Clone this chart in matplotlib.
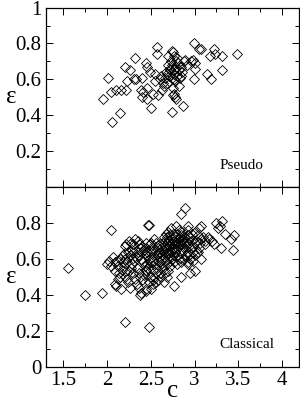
import matplotlib.pyplot as plt
from matplotlib.ticker import MultipleLocator

plt.rcParams['font.family'] = ['Liberation Serif', 'DejaVu Serif']

# Pseudo panel
c_pseudo = [1.95, 2.01, 2.04, 2.10, 2.16, 2.22, 2.06, 2.15, 2.20, 2.26,
            2.23, 2.32, 2.31, 2.33, 2.40, 2.44, 2.46, 2.49, 2.39, 2.41,
            2.40, 2.46, 2.46, 2.50, 2.55, 2.55, 2.57, 2.57, 2.58, 2.63,
            2.65, 2.62, 2.66, 2.68, 2.70, 2.72, 2.74, 2.75, 2.72, 2.74,
            2.75, 2.74, 2.75, 2.77, 2.78, 2.79, 2.77, 2.79, 2.79, 2.77,
            2.76, 2.80, 2.82, 2.83, 2.82, 2.87, 2.85, 2.88, 2.89, 2.91,
            2.96, 2.98, 3.00, 2.99, 3.01, 2.99, 3.05, 3.08, 3.14, 3.19,
            3.18, 3.22, 3.23, 3.31, 3.31, 3.49, 2.61, 2.67, 2.70, 2.73,
            2.76, 2.78, 2.81, 2.84, 2.86, 2.71, 2.69, 2.80, 2.74, 2.78,
            2.64, 2.52]
eps_pseudo = [0.49, 0.61, 0.53, 0.54, 0.54, 0.54, 0.36, 0.41, 0.67, 0.65,
              0.59, 0.72, 0.60, 0.60, 0.61, 0.69, 0.67, 0.64, 0.54, 0.53,
              0.50, 0.49, 0.55, 0.44, 0.63, 0.59, 0.78, 0.74, 0.51, 0.54,
              0.56, 0.62, 0.61, 0.63, 0.73, 0.65, 0.76, 0.75, 0.66, 0.61,
              0.55, 0.42, 0.51, 0.52, 0.50, 0.49, 0.73, 0.70, 0.67, 0.65,
              0.60, 0.62, 0.65, 0.61, 0.56, 0.45, 0.67, 0.70, 0.71, 0.68,
              0.70, 0.71, 0.69, 0.80, 0.66, 0.60, 0.77, 0.77, 0.63, 0.60,
              0.73, 0.77, 0.74, 0.73, 0.65, 0.74, 0.60, 0.64, 0.68, 0.70,
              0.63, 0.66, 0.69, 0.62, 0.64, 0.62, 0.58, 0.72, 0.68, 0.59,
              0.58, 0.52]

# Classical panel
c_classical = [1.55, 1.75, 1.94, 2.04, 2.21, 2.48, 2.47, 2.48, 2.84, 2.89,
               2.79, 2.77, 2.84, 2.95, 3.00, 3.05, 3.08, 3.17, 3.20, 3.25,
               3.27, 3.29, 3.32, 3.35, 3.42, 3.45, 3.44, 3.30, 3.22, 3.12,
               3.10, 3.05, 3.03, 3.08, 2.98, 3.00, 2.93, 2.45, 2.44, 2.39,
               2.38, 2.50, 2.53, 2.56, 2.48, 2.26, 2.24, 2.10, 2.09, 2.16,
               2.12, 2.22, 2.05, 2.02, 2.00, 2.07, 2.09, 2.14, 2.15, 2.18,
               2.20, 2.22, 2.25, 2.27, 2.30, 2.28, 2.32, 2.35, 2.38, 2.40,
               2.42, 2.43, 2.45, 2.44, 2.49, 2.50, 2.52, 2.55, 2.57, 2.60,
               2.62, 2.64, 2.65, 2.67, 2.70, 2.72, 2.74, 2.76, 2.78, 2.80,
               2.82, 2.85, 2.87, 2.90, 2.92, 2.94, 2.96, 2.98, 3.00, 2.88,
               2.85, 2.83, 2.81, 2.79, 2.77, 2.75, 2.73, 2.71, 2.69, 2.67,
               2.65, 2.63, 2.61, 2.59, 2.57, 2.55, 2.53, 2.51, 2.49, 2.47,
               2.45, 2.43, 2.41, 2.39, 2.37, 2.35, 2.33, 2.31, 2.29, 2.27,
               2.25, 2.23, 2.21, 2.19, 2.17, 2.15, 2.13, 2.11, 2.09, 2.26,
               2.28, 2.34, 2.36, 2.38, 2.40, 2.42, 2.44, 2.46, 2.48, 2.50,
               2.52, 2.54, 2.56, 2.58, 2.60, 2.62, 2.64, 2.66, 2.68, 2.70,
               2.72, 2.74, 2.76, 2.78, 2.80, 2.82, 2.84, 2.86, 2.88, 2.90,
               2.92, 2.94, 2.96, 2.98, 3.02, 3.04, 3.06, 3.08, 3.12, 3.15,
               3.00, 2.97, 2.93, 2.86, 2.83, 2.75, 2.73, 2.69, 2.66, 2.61,
               2.58, 2.56, 2.54, 2.61, 2.63, 2.68, 2.70, 2.72, 2.76, 2.80,
               2.84, 2.88, 2.90, 2.92, 2.95, 2.70, 2.72, 2.74, 2.76, 2.80,
               2.82, 2.84, 2.86, 2.88, 2.78, 2.66, 2.64, 2.58, 2.50, 2.46,
               2.44, 2.40, 2.36, 2.30, 2.24, 2.20, 2.18, 2.20, 2.23, 2.30,
               2.32, 2.34, 2.36, 2.50, 2.52, 2.60, 2.62, 2.58, 2.65, 2.67,
               2.69, 2.71, 2.73, 2.93, 2.92, 3.04]
eps_classical = [0.55, 0.40, 0.41, 0.76, 0.25, 0.22, 0.79, 0.79, 0.85, 0.88,
                 0.78, 0.45, 0.50, 0.52, 0.53, 0.77, 0.78, 0.71, 0.70, 0.80,
                 0.77, 0.78, 0.81, 0.74, 0.71, 0.73, 0.65, 0.66, 0.68, 0.68,
                 0.72, 0.66, 0.63, 0.60, 0.59, 0.62, 0.57, 0.43, 0.42, 0.41,
                 0.40, 0.43, 0.46, 0.47, 0.47, 0.44, 0.47, 0.45, 0.46, 0.43,
                 0.49, 0.53, 0.56, 0.59, 0.57, 0.61, 0.58, 0.52, 0.60, 0.62,
                 0.67, 0.68, 0.70, 0.69, 0.68, 0.65, 0.71, 0.70, 0.66, 0.64,
                 0.65, 0.63, 0.62, 0.69, 0.68, 0.69, 0.66, 0.64, 0.62, 0.63,
                 0.66, 0.69, 0.72, 0.74, 0.75, 0.73, 0.71, 0.70, 0.72, 0.74,
                 0.76, 0.73, 0.71, 0.70, 0.68, 0.72, 0.70, 0.67, 0.69, 0.66,
                 0.68, 0.70, 0.67, 0.65, 0.68, 0.66, 0.64, 0.67, 0.69, 0.66,
                 0.63, 0.60, 0.58, 0.56, 0.55, 0.57, 0.59, 0.61, 0.58, 0.55,
                 0.53, 0.56, 0.58, 0.60, 0.62, 0.64, 0.61, 0.59, 0.57, 0.55,
                 0.53, 0.58, 0.60, 0.56, 0.54, 0.50, 0.56, 0.59, 0.53, 0.62,
                 0.60, 0.55, 0.52, 0.50, 0.48, 0.51, 0.54, 0.57, 0.60, 0.63,
                 0.54, 0.50, 0.52, 0.59, 0.61, 0.57, 0.55, 0.52, 0.50, 0.53,
                 0.56, 0.60, 0.62, 0.64, 0.62, 0.60, 0.63, 0.65, 0.69, 0.67,
                 0.64, 0.62, 0.66, 0.64, 0.70, 0.73, 0.69, 0.71, 0.70, 0.72,
                 0.75, 0.74, 0.73, 0.75, 0.72, 0.74, 0.77, 0.72, 0.70, 0.68,
                 0.66, 0.69, 0.71, 0.64, 0.62, 0.63, 0.61, 0.59, 0.58, 0.57,
                 0.58, 0.60, 0.62, 0.58, 0.60, 0.70, 0.68, 0.69, 0.66, 0.69,
                 0.71, 0.68, 0.70, 0.72, 0.69, 0.67, 0.65, 0.63, 0.65, 0.64,
                 0.66, 0.67, 0.68, 0.63, 0.64, 0.63, 0.58, 0.50, 0.49, 0.52,
                 0.49, 0.46, 0.44, 0.50, 0.48, 0.52, 0.50, 0.48, 0.47, 0.59,
                 0.57, 0.63, 0.61, 0.78, 0.76, 0.64]

fig = plt.figure(figsize=(3.0, 4.01), dpi=100)
ax1 = fig.add_axes([0.153, 0.534, 0.845, 0.447])
ax2 = fig.add_axes([0.153, 0.085, 0.845, 0.449])

for ax, cx, ey in [(ax1, c_pseudo, eps_pseudo), (ax2, c_classical, eps_classical)]:
    ax.plot(cx, ey, linestyle='none', marker='D', markersize=4.8,
            markerfacecolor='none', markeredgecolor='black', markeredgewidth=0.6)
    ax.set_xlim(1.3, 4.2)
    ax.set_ylim(0, 1)
    ax.xaxis.set_major_locator(MultipleLocator(0.5))
    ax.xaxis.set_minor_locator(MultipleLocator(0.25))
    ax.yaxis.set_major_locator(MultipleLocator(0.2))
    ax.yaxis.set_minor_locator(MultipleLocator(0.1))
    ax.tick_params(which='both', direction='in', top=True, right=True, labelsize=15)
    ax.tick_params(which='major', length=5, width=0.7, pad=3)
    ax.tick_params(which='minor', length=3, width=0.7)
    for s in ax.spines.values():
        s.set_linewidth(0.9)
    ax.set_ylabel('ε', fontsize=18, rotation=0, ha='center', va='center')
    ax.yaxis.set_label_coords(-0.135, 0.5)

ax1.set_yticks([0.2, 0.4, 0.6, 0.8, 1.0])
ax1.set_yticklabels(['0.2', '0.4', '0.6', '0.8', '1'])
ax1.tick_params(labelbottom=False)
ax2.set_yticks([0, 0.2, 0.4, 0.6, 0.8])
ax2.set_yticklabels(['0', '0.2', '0.4', '0.6', '0.8'])
ax2.set_xticks([1.5, 2, 2.5, 3, 3.5, 4])
ax2.set_xticklabels(['1.5', '2', '2.5', '3', '3.5', '4'])
ax2.set_xlabel('c', fontsize=18, va='center')
ax2.xaxis.set_label_coords(0.5, -0.135)

ax1.text(3.54, 0.12, 'Pseudo', fontsize=11, ha='center', va='center')
ax2.text(3.6, 0.125, 'Classical', fontsize=11, ha='center', va='center')

fig.savefig('out.png', dpi=100)
